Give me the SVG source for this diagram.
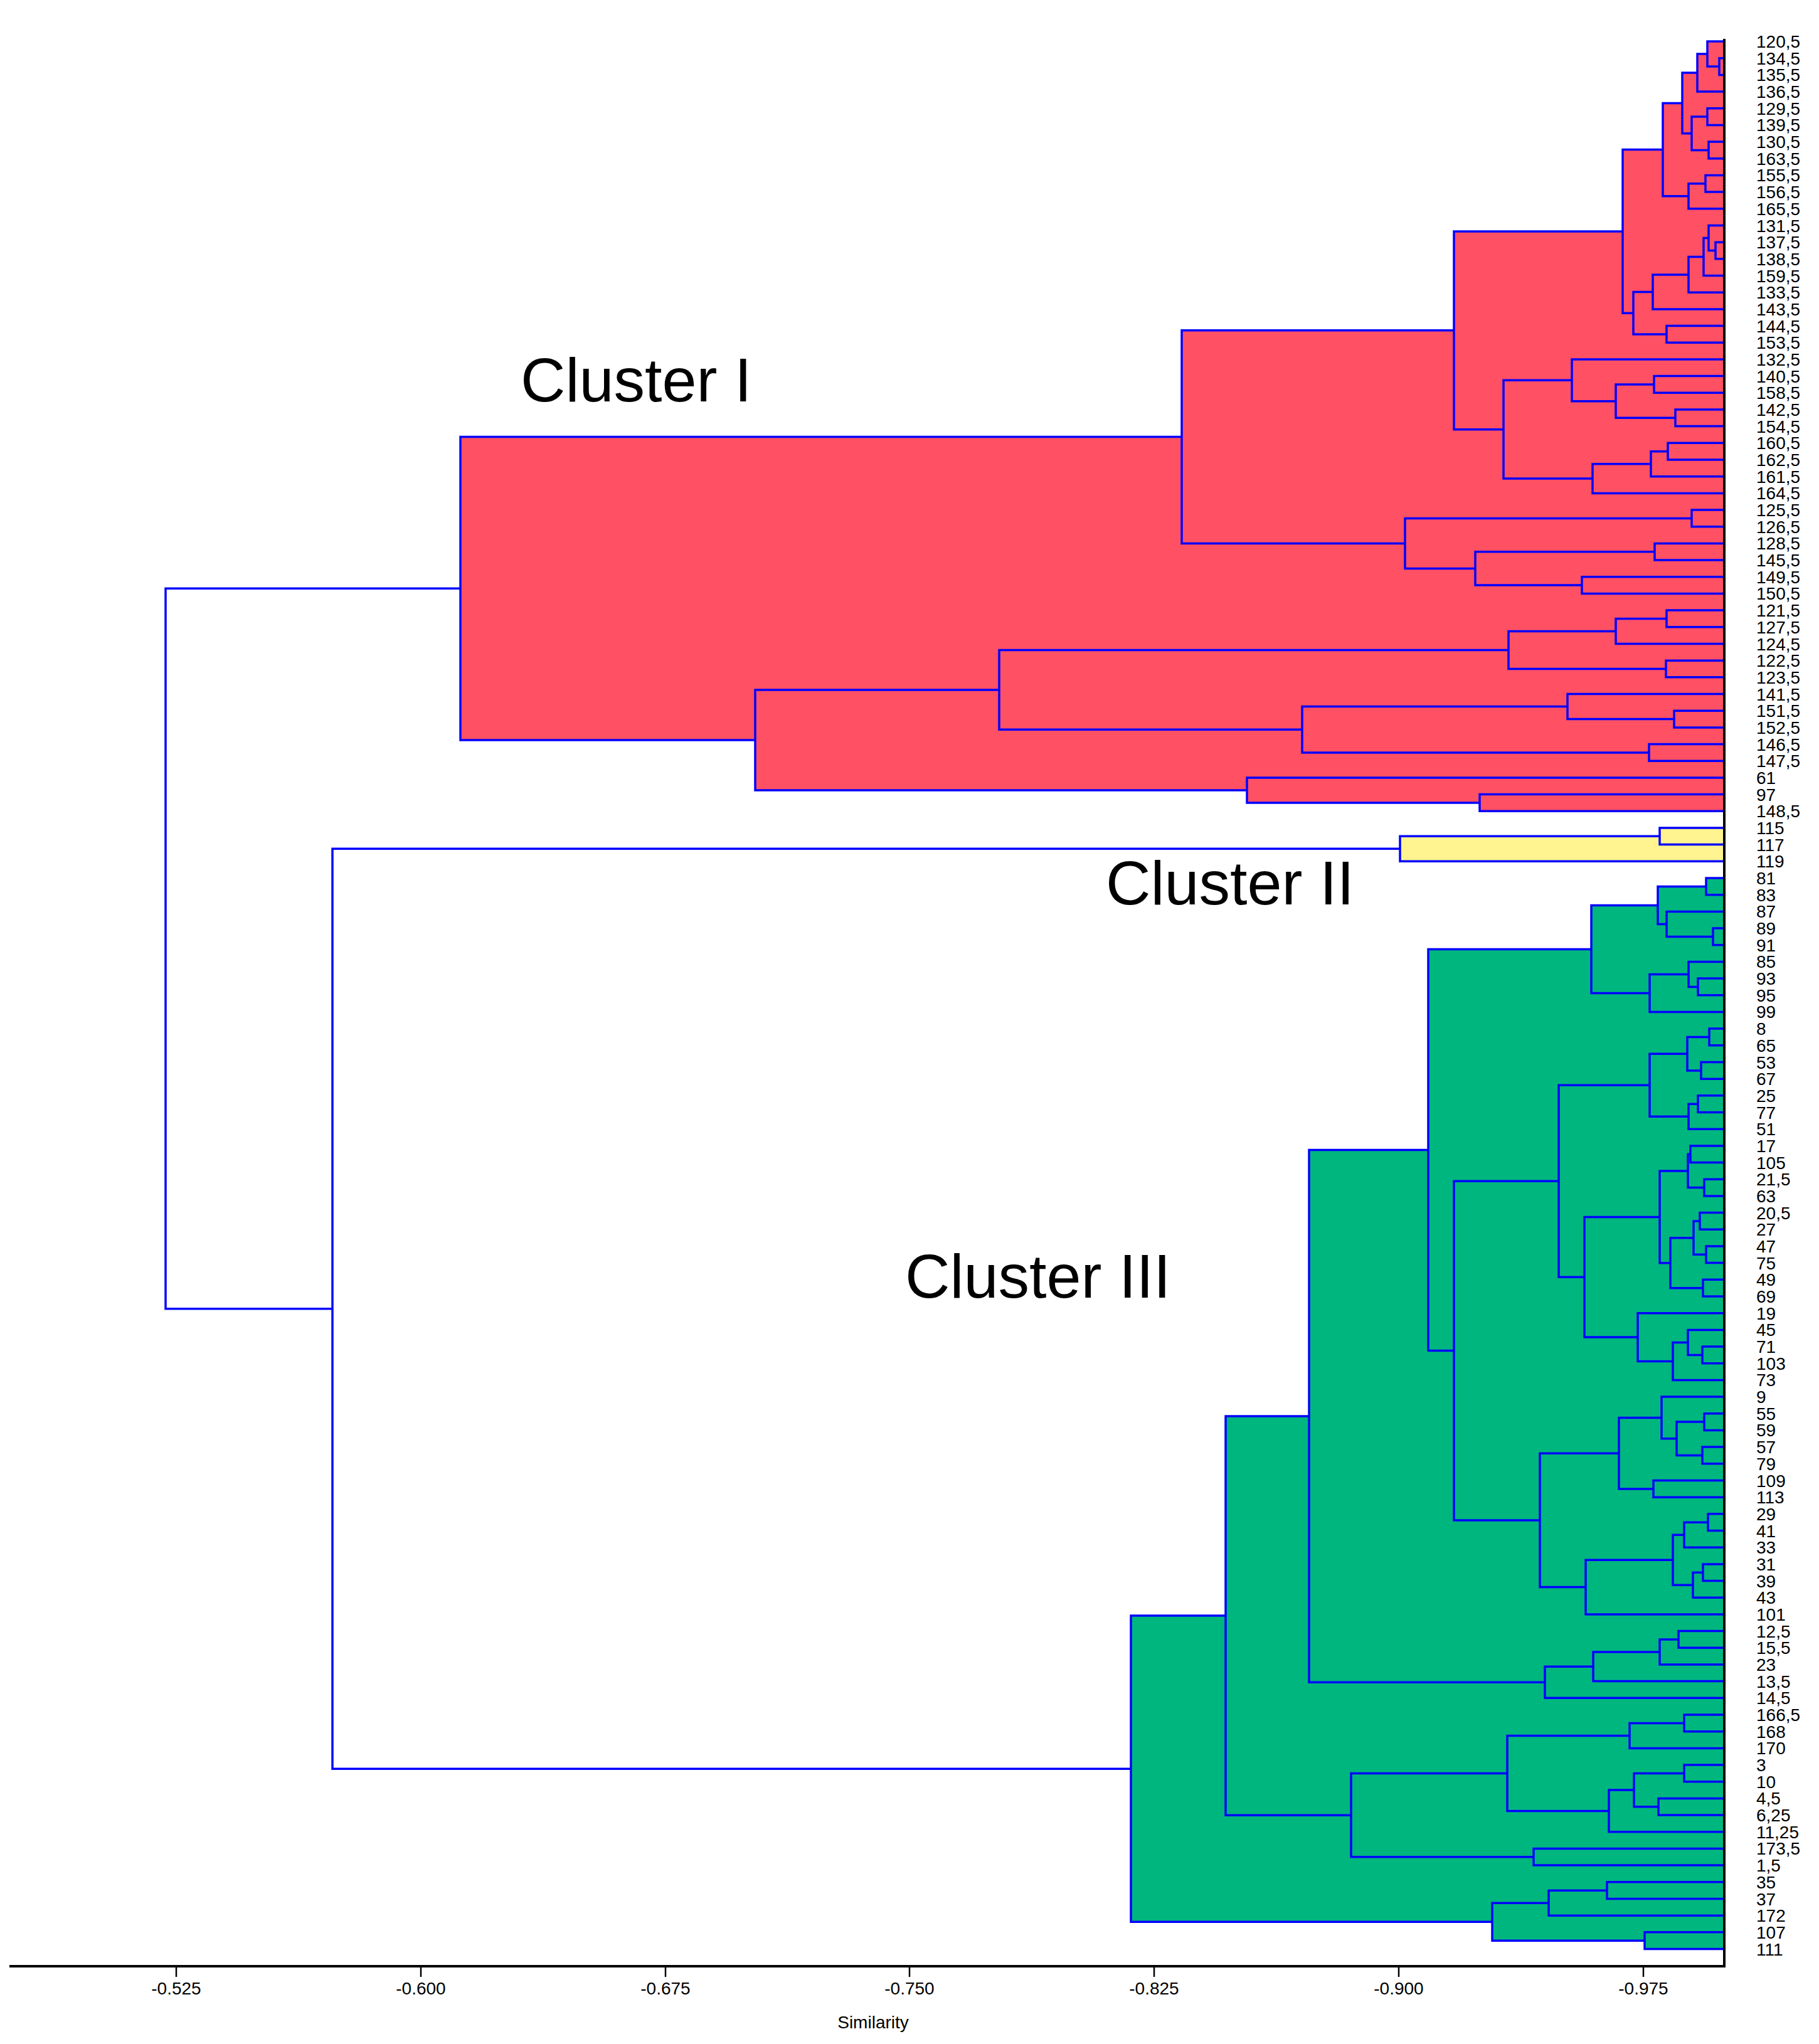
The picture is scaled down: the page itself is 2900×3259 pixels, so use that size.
<svg xmlns="http://www.w3.org/2000/svg" width="2900" height="3259" viewBox="0 0 2900 3259">
<style>
.b{fill:none;stroke:#0000ff;stroke-width:3.5}
.lf{font-family:"Liberation Sans",Arial,sans-serif;font-size:28px;fill:#000}
.ax{font-family:"Liberation Sans",Arial,sans-serif;font-size:28px;fill:#000;text-anchor:middle}
.cl{font-family:"Liberation Sans",Arial,sans-serif;font-size:99px;fill:#000}
</style>
<rect x="0" y="0" width="2900" height="3259" fill="#fff"/>
<g id="fills">
<path id="fill-cluster-I" fill="#ff5064" d="M2741 92.7H2749V119.4H2741ZM2722 66H2749V106H2722ZM2706 86H2749V146H2706ZM2722 172.7H2749V199.4H2722ZM2724 226.1H2749V252.8H2724ZM2697 186H2749V239.4H2697ZM2682 116H2749V212.7H2682ZM2719 279.4H2749V306.1H2719ZM2692 292.8H2749V332.8H2692ZM2651 164.4H2749V312.8H2651ZM2735 386.2H2749V412.8H2735ZM2724 359.5H2749V399.5H2724ZM2716 379.5H2749V439.5H2716ZM2692 409.5H2749V466.2H2692ZM2635 437.9H2749V492.9H2635ZM2657 519.6H2749V546.2H2657ZM2604 465.4H2749V532.9H2604ZM2587 238.6H2749V499.2H2587ZM2637 599.6H2749V626.3H2637ZM2671 653H2749V679.6H2671ZM2576 613H2749V666.3H2576ZM2506 572.9H2749V639.7H2506ZM2659 706.3H2749V733H2659ZM2632 719.7H2749V759.7H2632ZM2539 739.7H2749V786.4H2539ZM2397 606.3H2749V763.1H2397ZM2318 368.9H2749V684.7H2318ZM2697 813H2749V839.7H2697ZM2638 866.4H2749V893.1H2638ZM2522 919.8H2749V946.4H2522ZM2352 879.8H2749V933.1H2352ZM2240 826.4H2749V906.5H2240ZM1884 526.8H2749V866.4H1884ZM2657 973.1H2749V999.8H2657ZM2576 986.5H2749V1026.5H2576ZM2656 1053.2H2749V1079.8H2656ZM2405 1006.5H2749V1066.5H2405ZM2669 1133.2H2749V1159.9H2669ZM2499 1106.5H2749V1146.5H2499ZM2629 1186.6H2749V1213.2H2629ZM2076 1126.5H2749V1199.9H2076ZM1593 1036.5H2749V1163.2H1593ZM2359 1266.6H2749V1293.3H2359ZM1988 1239.9H2749V1280H1988ZM1204 1099.9H2749V1259.9H1204ZM734 696.6H2749V1179.9H734Z"/>
<path id="fill-cluster-II" fill="#fff48f" d="M2646 1320H2749V1346.6H2646ZM2232 1333.3H2749V1373.3H2232Z"/>
<path id="fill-cluster-III" fill="#00b67f" d="M2720 1400H2749V1426.7H2720ZM2731 1480H2749V1506.7H2731ZM2657 1453.4H2749V1493.4H2657ZM2643 1413.4H2749V1473.4H2643ZM2707 1560.1H2749V1586.8H2707ZM2692 1533.4H2749V1573.5H2692ZM2630 1553.5H2749V1613.4H2630ZM2537 1443.4H2749V1583.5H2537ZM2725 1640.1H2749V1666.8H2725ZM2712 1693.5H2749V1720.2H2712ZM2690 1653.5H2749V1706.9H2690ZM2707 1746.8H2749V1773.5H2707ZM2692 1760.2H2749V1800.2H2692ZM2630 1680.2H2749V1780.2H2630ZM2695 1826.9H2749V1853.6H2695ZM2717 1880.2H2749V1906.9H2717ZM2691 1840.3H2749V1893.6H2691ZM2710 1933.6H2749V1960.3H2710ZM2720 1987H2749V2013.6H2720ZM2700 1947H2749V2000.3H2700ZM2715 2040.3H2749V2067H2715ZM2663 1973.7H2749V2053.7H2663ZM2646 1867H2749V2013.7H2646ZM2714 2147H2749V2173.7H2714ZM2691 2120.4H2749V2160.4H2691ZM2667 2140.4H2749V2200.4H2667ZM2611 2093.7H2749V2170.4H2611ZM2526 1940.4H2749V2132.1H2526ZM2485 1730.2H2749V2036.3H2485ZM2717 2253.8H2749V2280.4H2717ZM2714 2307.1H2749V2333.8H2714ZM2673 2267.1H2749V2320.5H2673ZM2649 2227.1H2749V2293.8H2649ZM2636 2360.5H2749V2387.2H2636ZM2581 2260.5H2749V2373.9H2581ZM2723 2413.8H2749V2440.5H2723ZM2685 2427.2H2749V2467.2H2685ZM2715 2493.9H2749V2520.6H2715ZM2699 2507.3H2749V2547.2H2699ZM2667 2447.2H2749V2527.3H2667ZM2528 2487.3H2749V2573.9H2528ZM2455 2317.2H2749V2530.6H2455ZM2318 1883.3H2749V2423.9H2318ZM2277 1513.5H2749V2153.6H2277ZM2676 2600.6H2749V2627.3H2676ZM2646 2614H2749V2654H2646ZM2540 2634H2749V2680.6H2540ZM2463 2657.3H2749V2707.3H2463ZM2087 1833.6H2749V2682.3H2087ZM2685 2734H2749V2760.7H2685ZM2598 2747.4H2749V2787.4H2598ZM2685 2814H2749V2840.7H2685ZM2644 2867.4H2749V2894.1H2644ZM2605 2827.4H2749V2880.8H2605ZM2565 2854.1H2749V2920.8H2565ZM2403 2767.4H2749V2887.5H2403ZM2445 2947.4H2749V2974.1H2445ZM2154 2827.5H2749V2960.8H2154ZM1954 2258H2749V2894.2H1954ZM2562 3000.8H2749V3027.5H2562ZM2469 3014.2H2749V3054.2H2469ZM2622 3080.8H2749V3107.5H2622ZM2379 3034.2H2749V3094.2H2379ZM1803 2576.1H2749V3064.2H1803Z"/>
</g>
<g id="connectors">
<path class="b" d="M2749 92.7H2741V119.4H2749M2749 66H2722V106H2741M2722 86H2706V146H2749M2749 172.7H2722V199.4H2749M2749 226.1H2724V252.8H2749M2722 186H2697V239.4H2724M2706 116H2682V212.7H2697M2749 279.4H2719V306.1H2749M2719 292.8H2692V332.8H2749M2682 164.4H2651V312.8H2692M2749 386.2H2735V412.8H2749M2749 359.5H2724V399.5H2735M2724 379.5H2716V439.5H2749M2716 409.5H2692V466.2H2749M2692 437.9H2635V492.9H2749M2749 519.6H2657V546.2H2749M2635 465.4H2604V532.9H2657M2651 238.6H2587V499.2H2604M2749 599.6H2637V626.3H2749M2749 653H2671V679.6H2749M2637 613H2576V666.3H2671M2749 572.9H2506V639.7H2576M2749 706.3H2659V733H2749M2659 719.7H2632V759.7H2749M2632 739.7H2539V786.4H2749M2506 606.3H2397V763.1H2539M2587 368.9H2318V684.7H2397M2749 813H2697V839.7H2749M2749 866.4H2638V893.1H2749M2749 919.8H2522V946.4H2749M2638 879.8H2352V933.1H2522M2697 826.4H2240V906.5H2352M2318 526.8H1884V866.4H2240M2749 973.1H2657V999.8H2749M2657 986.5H2576V1026.5H2749M2749 1053.2H2656V1079.8H2749M2576 1006.5H2405V1066.5H2656M2749 1133.2H2669V1159.9H2749M2749 1106.5H2499V1146.5H2669M2749 1186.6H2629V1213.2H2749M2499 1126.5H2076V1199.9H2629M2405 1036.5H1593V1163.2H2076M2749 1266.6H2359V1293.3H2749M2749 1239.9H1988V1280H2359M1593 1099.9H1204V1259.9H1988M1884 696.6H734V1179.9H1204"/>
<path class="b" d="M2749 1320H2646V1346.6H2749M2646 1333.3H2232V1373.3H2749"/>
<path class="b" d="M2749 1400H2720V1426.7H2749M2749 1480H2731V1506.7H2749M2749 1453.4H2657V1493.4H2731M2720 1413.4H2643V1473.4H2657M2749 1560.1H2707V1586.8H2749M2749 1533.4H2692V1573.5H2707M2692 1553.5H2630V1613.4H2749M2643 1443.4H2537V1583.5H2630M2749 1640.1H2725V1666.8H2749M2749 1693.5H2712V1720.2H2749M2725 1653.5H2690V1706.9H2712M2749 1746.8H2707V1773.5H2749M2707 1760.2H2692V1800.2H2749M2690 1680.2H2630V1780.2H2692M2749 1826.9H2695V1853.6H2749M2749 1880.2H2717V1906.9H2749M2695 1840.3H2691V1893.6H2717M2749 1933.6H2710V1960.3H2749M2749 1987H2720V2013.6H2749M2710 1947H2700V2000.3H2720M2749 2040.3H2715V2067H2749M2700 1973.7H2663V2053.7H2715M2691 1867H2646V2013.7H2663M2749 2147H2714V2173.7H2749M2749 2120.4H2691V2160.4H2714M2691 2140.4H2667V2200.4H2749M2749 2093.7H2611V2170.4H2667M2646 1940.4H2526V2132.1H2611M2630 1730.2H2485V2036.3H2526M2749 2253.8H2717V2280.4H2749M2749 2307.1H2714V2333.8H2749M2717 2267.1H2673V2320.5H2714M2749 2227.1H2649V2293.8H2673M2749 2360.5H2636V2387.2H2749M2649 2260.5H2581V2373.9H2636M2749 2413.8H2723V2440.5H2749M2723 2427.2H2685V2467.2H2749M2749 2493.9H2715V2520.6H2749M2715 2507.3H2699V2547.2H2749M2685 2447.2H2667V2527.3H2699M2667 2487.3H2528V2573.9H2749M2581 2317.2H2455V2530.6H2528M2485 1883.3H2318V2423.9H2455M2537 1513.5H2277V2153.6H2318M2749 2600.6H2676V2627.3H2749M2676 2614H2646V2654H2749M2646 2634H2540V2680.6H2749M2540 2657.3H2463V2707.3H2749M2277 1833.6H2087V2682.3H2463M2749 2734H2685V2760.7H2749M2685 2747.4H2598V2787.4H2749M2749 2814H2685V2840.7H2749M2749 2867.4H2644V2894.1H2749M2685 2827.4H2605V2880.8H2644M2605 2854.1H2565V2920.8H2749M2598 2767.4H2403V2887.5H2565M2749 2947.4H2445V2974.1H2749M2403 2827.5H2154V2960.8H2445M2087 2258H1954V2894.2H2154M2749 3000.8H2562V3027.5H2749M2562 3014.2H2469V3054.2H2749M2749 3080.8H2622V3107.5H2749M2469 3034.2H2379V3094.2H2622M1954 2576.1H1803V3064.2H2379"/>
<path class="b" d="M2232 1353.3H530V2820.2H1803M734 938.3H264V2086.8H530"/>
</g>
<g id="axes" stroke="#000">
<line x1="2749" y1="62" x2="2749" y2="3137" stroke-width="4"/>
<line x1="15" y1="3135" x2="2751" y2="3135" stroke-width="4"/>
<path stroke-width="2.5" d="M281 3135V3152M671 3135V3152M1061 3135V3152M1450 3135V3152M1840 3135V3152M2230 3135V3152M2620 3135V3152"/>
</g>
<g id="axis-labels">
<text class="ax" x="281" y="3180">-0.525</text>
<text class="ax" x="671" y="3180">-0.600</text>
<text class="ax" x="1061" y="3180">-0.675</text>
<text class="ax" x="1450" y="3180">-0.750</text>
<text class="ax" x="1840" y="3180">-0.825</text>
<text class="ax" x="2230" y="3180">-0.900</text>
<text class="ax" x="2620" y="3180">-0.975</text>
<text class="ax" x="1392" y="3234">Similarity</text>
</g>
<g id="cluster-labels">
<text id="cluster-I" class="cl" x="830" y="640">Cluster I</text>
<text id="cluster-II" class="cl" x="1763" y="1442">Cluster II</text>
<text id="cluster-III" class="cl" x="1443" y="2069">Cluster III</text>
</g>
<g id="leaves">
<text class="lf" x="2800" y="76">120,5</text>
<text class="lf" x="2800" y="102.7">134,5</text>
<text class="lf" x="2800" y="129.4">135,5</text>
<text class="lf" x="2800" y="156">136,5</text>
<text class="lf" x="2800" y="182.7">129,5</text>
<text class="lf" x="2800" y="209.4">139,5</text>
<text class="lf" x="2800" y="236.1">130,5</text>
<text class="lf" x="2800" y="262.8">163,5</text>
<text class="lf" x="2800" y="289.4">155,5</text>
<text class="lf" x="2800" y="316.1">156,5</text>
<text class="lf" x="2800" y="342.8">165,5</text>
<text class="lf" x="2800" y="369.5">131,5</text>
<text class="lf" x="2800" y="396.2">137,5</text>
<text class="lf" x="2800" y="422.8">138,5</text>
<text class="lf" x="2800" y="449.5">159,5</text>
<text class="lf" x="2800" y="476.2">133,5</text>
<text class="lf" x="2800" y="502.9">143,5</text>
<text class="lf" x="2800" y="529.6">144,5</text>
<text class="lf" x="2800" y="556.2">153,5</text>
<text class="lf" x="2800" y="582.9">132,5</text>
<text class="lf" x="2800" y="609.6">140,5</text>
<text class="lf" x="2800" y="636.3">158,5</text>
<text class="lf" x="2800" y="663">142,5</text>
<text class="lf" x="2800" y="689.6">154,5</text>
<text class="lf" x="2800" y="716.3">160,5</text>
<text class="lf" x="2800" y="743">162,5</text>
<text class="lf" x="2800" y="769.7">161,5</text>
<text class="lf" x="2800" y="796.4">164,5</text>
<text class="lf" x="2800" y="823">125,5</text>
<text class="lf" x="2800" y="849.7">126,5</text>
<text class="lf" x="2800" y="876.4">128,5</text>
<text class="lf" x="2800" y="903.1">145,5</text>
<text class="lf" x="2800" y="929.8">149,5</text>
<text class="lf" x="2800" y="956.4">150,5</text>
<text class="lf" x="2800" y="983.1">121,5</text>
<text class="lf" x="2800" y="1009.8">127,5</text>
<text class="lf" x="2800" y="1036.5">124,5</text>
<text class="lf" x="2800" y="1063.2">122,5</text>
<text class="lf" x="2800" y="1089.8">123,5</text>
<text class="lf" x="2800" y="1116.5">141,5</text>
<text class="lf" x="2800" y="1143.2">151,5</text>
<text class="lf" x="2800" y="1169.9">152,5</text>
<text class="lf" x="2800" y="1196.6">146,5</text>
<text class="lf" x="2800" y="1223.2">147,5</text>
<text class="lf" x="2800" y="1249.9">61</text>
<text class="lf" x="2800" y="1276.6">97</text>
<text class="lf" x="2800" y="1303.3">148,5</text>
<text class="lf" x="2800" y="1330">115</text>
<text class="lf" x="2800" y="1356.6">117</text>
<text class="lf" x="2800" y="1383.3">119</text>
<text class="lf" x="2800" y="1410">81</text>
<text class="lf" x="2800" y="1436.7">83</text>
<text class="lf" x="2800" y="1463.4">87</text>
<text class="lf" x="2800" y="1490">89</text>
<text class="lf" x="2800" y="1516.7">91</text>
<text class="lf" x="2800" y="1543.4">85</text>
<text class="lf" x="2800" y="1570.1">93</text>
<text class="lf" x="2800" y="1596.8">95</text>
<text class="lf" x="2800" y="1623.4">99</text>
<text class="lf" x="2800" y="1650.1">8</text>
<text class="lf" x="2800" y="1676.8">65</text>
<text class="lf" x="2800" y="1703.5">53</text>
<text class="lf" x="2800" y="1730.2">67</text>
<text class="lf" x="2800" y="1756.8">25</text>
<text class="lf" x="2800" y="1783.5">77</text>
<text class="lf" x="2800" y="1810.2">51</text>
<text class="lf" x="2800" y="1836.9">17</text>
<text class="lf" x="2800" y="1863.6">105</text>
<text class="lf" x="2800" y="1890.2">21,5</text>
<text class="lf" x="2800" y="1916.9">63</text>
<text class="lf" x="2800" y="1943.6">20,5</text>
<text class="lf" x="2800" y="1970.3">27</text>
<text class="lf" x="2800" y="1997">47</text>
<text class="lf" x="2800" y="2023.6">75</text>
<text class="lf" x="2800" y="2050.3">49</text>
<text class="lf" x="2800" y="2077">69</text>
<text class="lf" x="2800" y="2103.7">19</text>
<text class="lf" x="2800" y="2130.4">45</text>
<text class="lf" x="2800" y="2157">71</text>
<text class="lf" x="2800" y="2183.7">103</text>
<text class="lf" x="2800" y="2210.4">73</text>
<text class="lf" x="2800" y="2237.1">9</text>
<text class="lf" x="2800" y="2263.8">55</text>
<text class="lf" x="2800" y="2290.4">59</text>
<text class="lf" x="2800" y="2317.1">57</text>
<text class="lf" x="2800" y="2343.8">79</text>
<text class="lf" x="2800" y="2370.5">109</text>
<text class="lf" x="2800" y="2397.2">113</text>
<text class="lf" x="2800" y="2423.8">29</text>
<text class="lf" x="2800" y="2450.5">41</text>
<text class="lf" x="2800" y="2477.2">33</text>
<text class="lf" x="2800" y="2503.9">31</text>
<text class="lf" x="2800" y="2530.6">39</text>
<text class="lf" x="2800" y="2557.2">43</text>
<text class="lf" x="2800" y="2583.9">101</text>
<text class="lf" x="2800" y="2610.6">12,5</text>
<text class="lf" x="2800" y="2637.3">15,5</text>
<text class="lf" x="2800" y="2664">23</text>
<text class="lf" x="2800" y="2690.6">13,5</text>
<text class="lf" x="2800" y="2717.3">14,5</text>
<text class="lf" x="2800" y="2744">166,5</text>
<text class="lf" x="2800" y="2770.7">168</text>
<text class="lf" x="2800" y="2797.4">170</text>
<text class="lf" x="2800" y="2824">3</text>
<text class="lf" x="2800" y="2850.7">10</text>
<text class="lf" x="2800" y="2877.4">4,5</text>
<text class="lf" x="2800" y="2904.1">6,25</text>
<text class="lf" x="2800" y="2930.8">11,25</text>
<text class="lf" x="2800" y="2957.4">173,5</text>
<text class="lf" x="2800" y="2984.1">1,5</text>
<text class="lf" x="2800" y="3010.8">35</text>
<text class="lf" x="2800" y="3037.5">37</text>
<text class="lf" x="2800" y="3064.2">172</text>
<text class="lf" x="2800" y="3090.8">107</text>
<text class="lf" x="2800" y="3117.5">111</text>
</g>
</svg>
